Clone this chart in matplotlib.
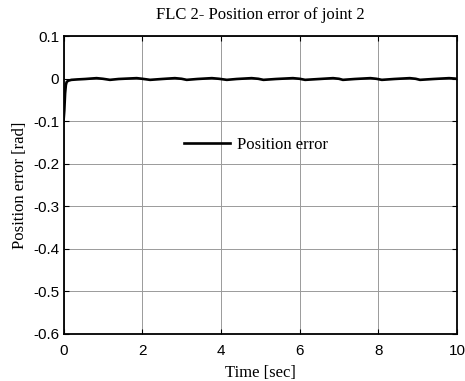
import matplotlib
matplotlib.use("Agg")
import matplotlib.pyplot as plt

time = [0.0, 0.02, 0.04, 0.06, 0.08, 0.12, 0.2, 0.35, 0.55, 0.84, 1.0, 1.18, 1.4,
        1.86, 2.0, 2.2, 2.5, 2.83, 3.0, 3.13, 3.4, 3.77, 3.95, 4.15, 4.4, 4.78,
        4.95, 5.08, 5.4, 5.83, 6.0, 6.14, 6.5, 6.85, 7.0, 7.1, 7.4, 7.8, 7.95,
        8.09, 8.4, 8.8, 8.95, 9.06, 9.4, 9.8, 9.95, 10.0]
error = [-0.1, -0.075, -0.035, -0.015, -0.008, -0.005, -0.003, -0.002, -0.001,
         0.001, -0.0005, -0.003, -0.001,
         0.001, -0.0005, -0.003, -0.001, 0.001, -0.0005, -0.003, -0.001, 0.001,
         -0.0005, -0.003, -0.001, 0.001,
         -0.0005, -0.003, -0.001, 0.001, -0.0005, -0.003, -0.001, 0.001, -0.0005,
         -0.003, -0.001, 0.001, -0.0005,
         -0.003, -0.001, 0.001, -0.0005, -0.003, -0.001, 0.001, 0.0, -0.001]
xticks = [0, 2, 4, 6, 8, 10]
yticks = [0.1, 0, -0.1, -0.2, -0.3, -0.4, -0.5, -0.6]
ytick_labels = ["0.1", "0", "-0.1", "-0.2", "-0.3", "-0.4", "-0.5", "-0.6"]

serif = "Liberation Serif"
sans = "Liberation Sans"

fig = plt.figure(figsize=(4.65, 3.81), dpi=100)
ax = fig.add_axes([0.1366, 0.1234, 0.8462, 0.7821])

ax.plot(time, error, color="black", lw=1.9, label="Position error")

ax.set_xlim(0, 10)
ax.set_ylim(-0.6, 0.1)
ax.set_xticks(xticks)
ax.set_yticks(yticks)
ax.set_yticklabels(ytick_labels)
ax.grid(True, color="#9a9a9a", lw=0.7)
ax.tick_params(direction="in", length=3.5, width=0.8, top=True, right=True,
               labelsize=11)
ax.tick_params(axis="x", pad=7)
ax.tick_params(axis="y", pad=3)
for lab in ax.get_xticklabels() + ax.get_yticklabels():
    lab.set_fontfamily(sans)
for s in ax.spines.values():
    s.set_linewidth(1.3)

ax.set_title("FLC 2- Position error of joint 2", fontsize=12, family=serif, pad=12.5)
ax.set_xlabel("Time [sec]", fontsize=12, family=serif, labelpad=5)
ax.set_ylabel("Position error [rad]", fontsize=12, family=serif, labelpad=4)

leg = ax.legend(loc="center left", bbox_to_anchor=(0.306, 0.634), frameon=False,
                borderpad=0, borderaxespad=0, handlelength=2.75, handletextpad=0.42,
                prop={"family": serif, "size": 12})

fig.savefig("out.png", dpi=100)
